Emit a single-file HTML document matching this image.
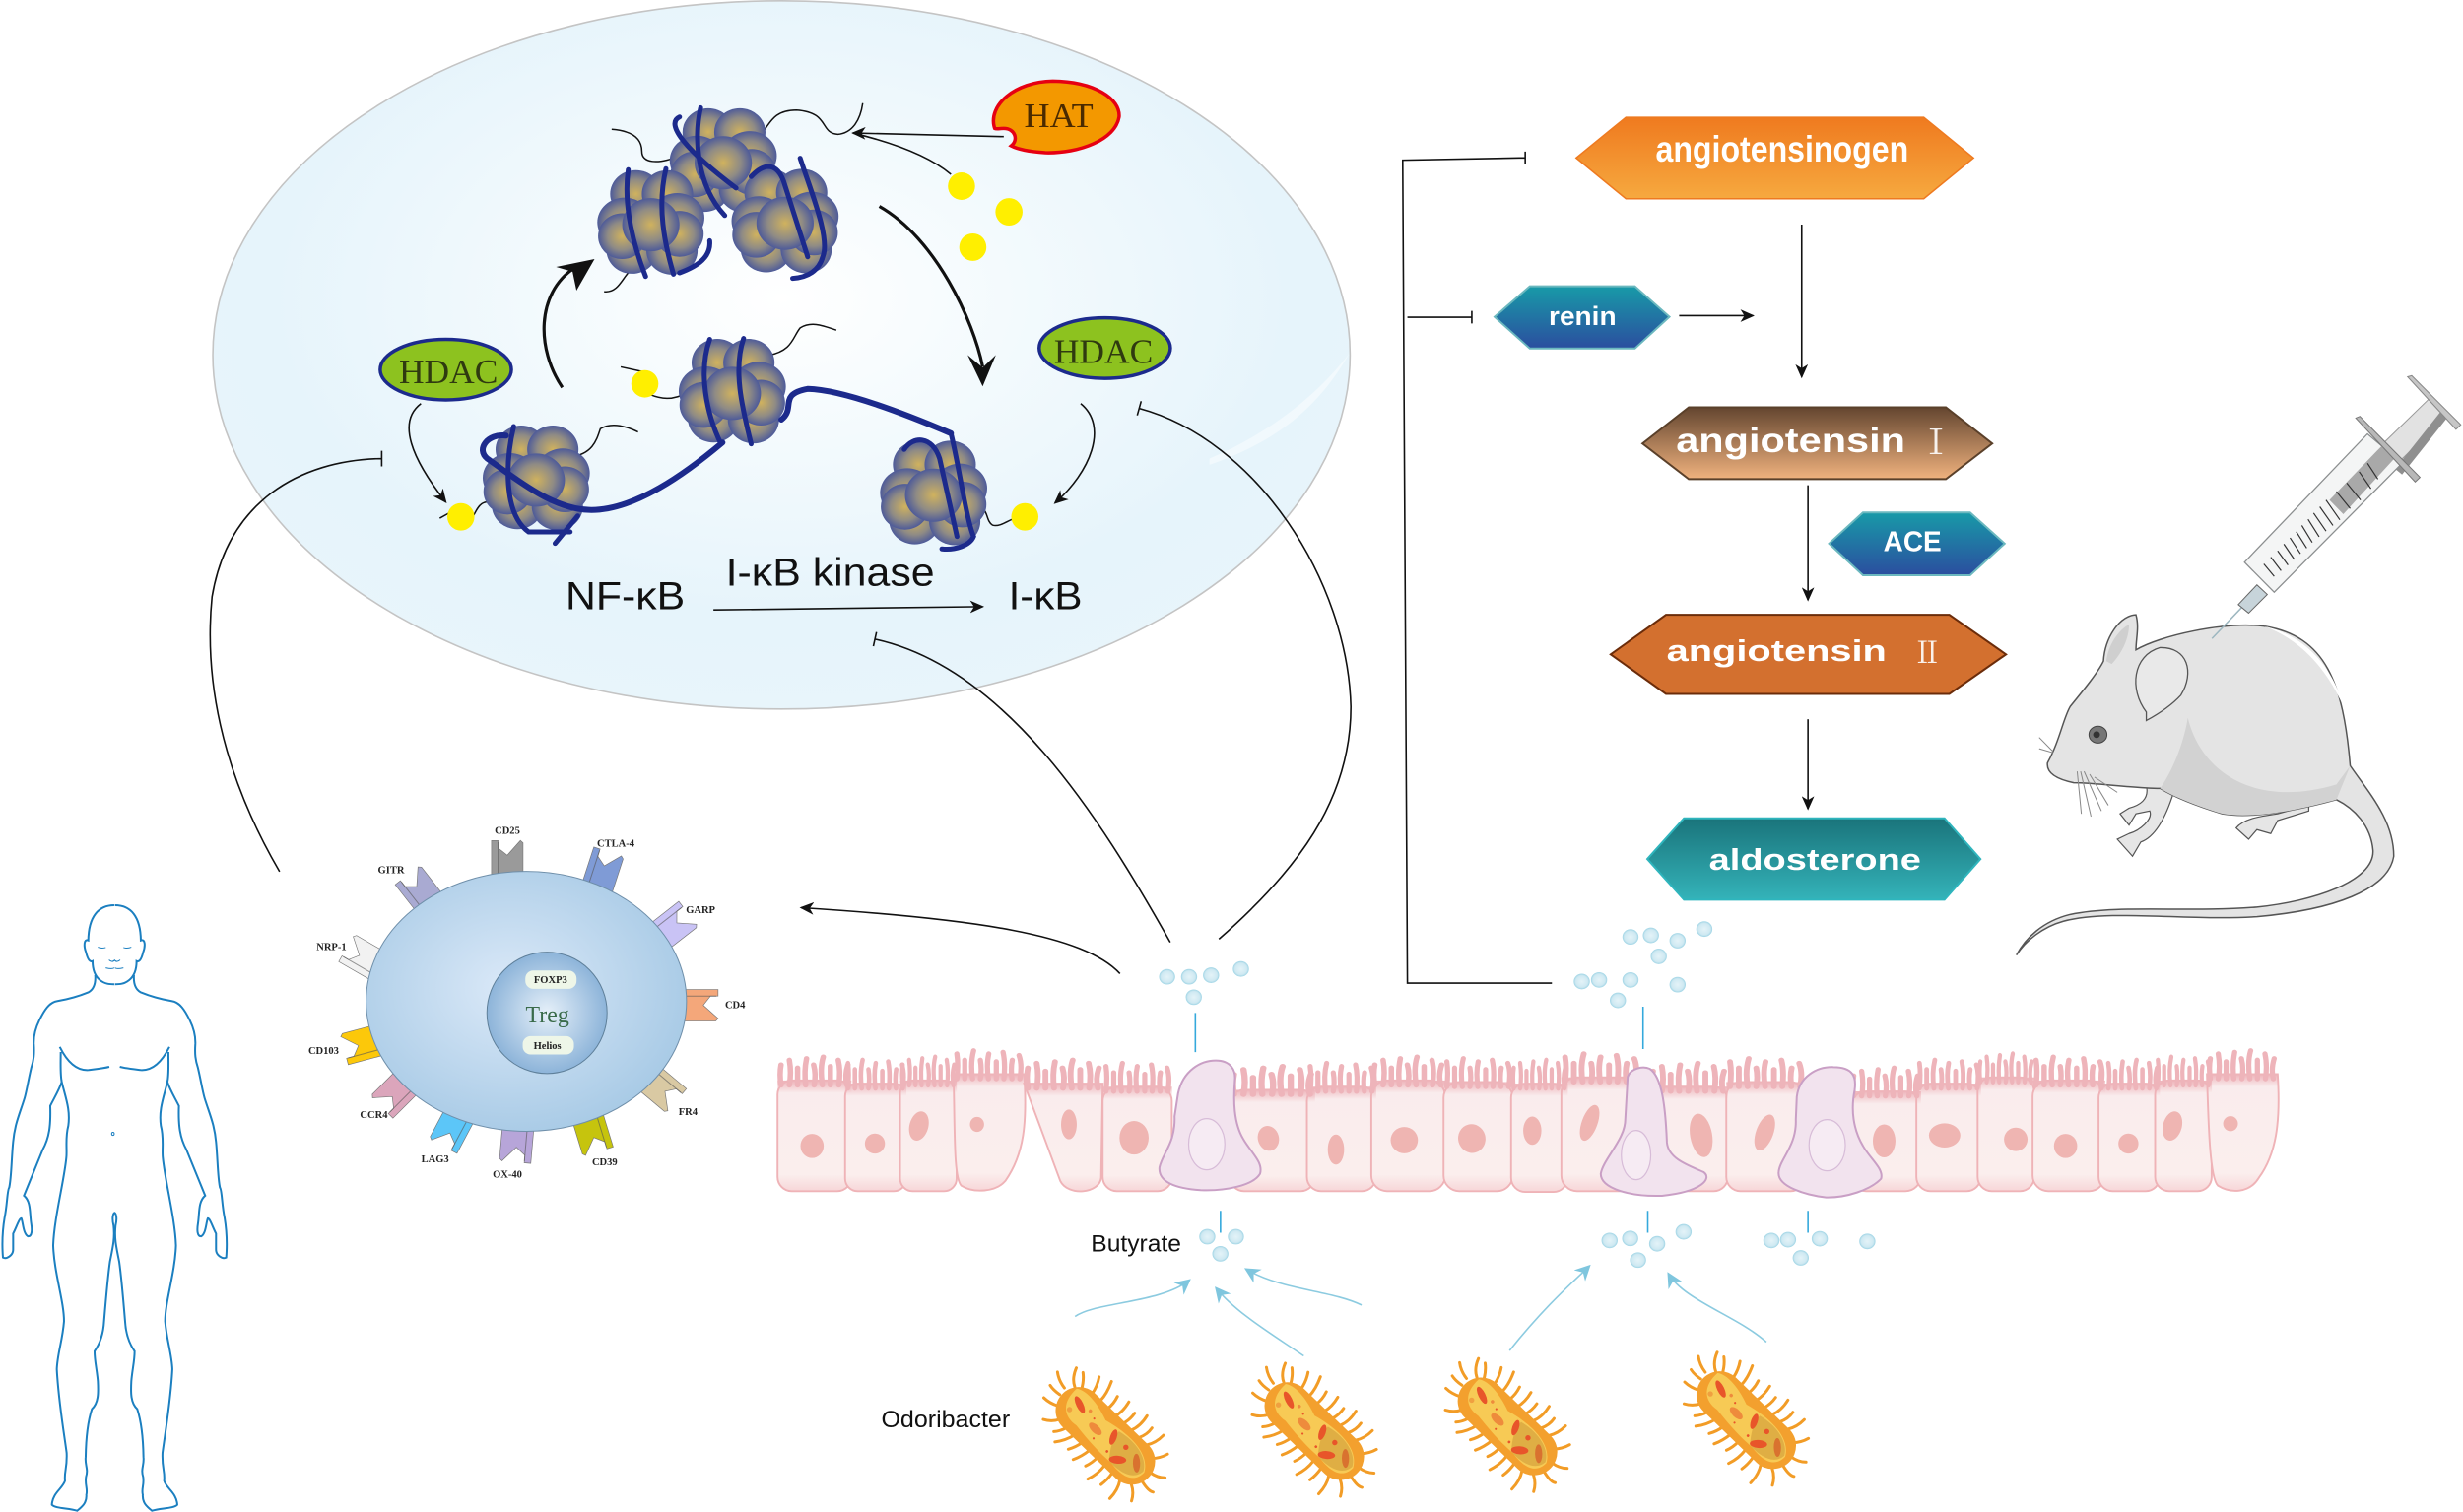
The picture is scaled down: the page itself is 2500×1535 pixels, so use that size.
<!DOCTYPE html>
<html><head><meta charset="utf-8"><style>
html,body{margin:0;padding:0;background:#fff}
svg{display:block}
text{font-family:"Liberation Sans","Noto Sans CJK SC",sans-serif}
.s{font-family:"Liberation Serif","Noto Serif CJK SC",serif}
.t{font-family:"Liberation Serif",serif;font-size:6.6px;font-weight:bold;fill:#222;text-anchor:middle}
.w{fill:#fff;font-weight:bold}
.ns,.ns *{vector-effect:non-scaling-stroke}
</style></head><body>
<svg width="2500" height="1535" viewBox="0 0 1568 962.8" preserveAspectRatio="none" xmlns="http://www.w3.org/2000/svg">
<defs>
<radialGradient id="bg" cx=".5" cy=".42" r=".6"><stop offset="0" stop-color="#fff"/><stop offset=".35" stop-color="#f3fafd"/><stop offset=".75" stop-color="#e6f4fb"/><stop offset="1" stop-color="#e8f5fb"/></radialGradient>
<radialGradient id="nb" cx=".5" cy=".5" r=".55"><stop offset="0" stop-color="#d0b25e"/><stop offset=".55" stop-color="#8f8b85"/><stop offset="1" stop-color="#3d4e9e"/></radialGradient>
<radialGradient id="cell" cx=".45" cy=".45" r=".6"><stop offset="0" stop-color="#dbe9f8"/><stop offset="1" stop-color="#a6c9e5"/></radialGradient>
<radialGradient id="nuc2" cx=".5" cy=".5" r=".55"><stop offset="0" stop-color="#e6f0f9"/><stop offset="1" stop-color="#84aed6"/></radialGradient>
<radialGradient id="drop" cx=".5" cy=".5" r=".55"><stop offset="0" stop-color="#e4f3f8"/><stop offset=".7" stop-color="#cfe9f2"/><stop offset="1" stop-color="#9fd3e4"/></radialGradient>
<linearGradient id="g1" x1="0" y1="0" x2="0" y2="1"><stop offset="0" stop-color="#ef7a1f"/><stop offset="1" stop-color="#f6a93f"/></linearGradient>
<linearGradient id="g2" x1="0" y1="0" x2="0" y2="1"><stop offset="0" stop-color="#189aa8"/><stop offset="1" stop-color="#2b4e9f"/></linearGradient>
<linearGradient id="g3" x1="0" y1="0" x2="0" y2="1"><stop offset="0" stop-color="#644630"/><stop offset="1" stop-color="#f0b27e"/></linearGradient>
<linearGradient id="g4" x1="0" y1="0" x2="0" y2="1"><stop offset="0" stop-color="#1a747b"/><stop offset="1" stop-color="#34b3b9"/></linearGradient>
<linearGradient id="ep" x1="0" y1="0" x2="0" y2="1"><stop offset="0" stop-color="#f9eced"/><stop offset=".85" stop-color="#fbeeed"/><stop offset="1" stop-color="#f7d6d8"/></linearGradient>
<linearGradient id="vb" x1="0" y1="0" x2="0" y2="1"><stop offset="0" stop-color="#eeb4ba"/><stop offset="1" stop-color="#eeb4ba" stop-opacity="0"/></linearGradient>
<marker id="ar" markerUnits="userSpaceOnUse" markerWidth="10" markerHeight="8" refX="8" refY="4" orient="auto"><path d="M0 0L9 4L0 8L2.5 4Z" fill="#111"/></marker>
<marker id="ar2" markerUnits="userSpaceOnUse" markerWidth="12" markerHeight="10" refX="9" refY="5" orient="auto"><path d="M0 0L10 5L0 10L3 5Z" fill="#7fc6de"/></marker>
<g id="n" fill="url(#nb)">
<ellipse cx="-20" cy="-62" rx="34" ry="52"/><ellipse cx="22" cy="-62" rx="34" ry="52"/>
<ellipse cx="-25" cy="60" rx="34" ry="52"/><ellipse cx="28" cy="62" rx="34" ry="52"/>
<ellipse cx="35" cy="-10" rx="36" ry="54"/><ellipse cx="-35" cy="0" rx="36" ry="54"/>
<ellipse cx="38" cy="25" rx="32" ry="50"/><ellipse cx="-38" cy="30" rx="32" ry="50"/>
<ellipse cx="0" cy="5" rx="38" ry="58"/>
</g>
<g id="d"><ellipse cx="0" cy="0" rx="4.9" ry="4.7" fill="url(#drop)" stroke="#a9d9e8" stroke-width=".5"/></g>
<g id="b">
<g transform="rotate(44) scale(.85) translate(-3,0)">
<path fill="none" stroke="#f29c26" stroke-width="2.200" stroke-linecap="round" d="M-34-12q-3-6-8-10M-26-15q-1-7-5-13M-18-16q0-7-4-16M-10-15q1-6-1-12M-2-15q2-7 0-15M6-15q2-6 1-12M14-16q3-7 1-16M22-16q3-6 2-12M30-16q4-6 4-14M38-10q6-5 8-12M46-3q7-1 11-5M47 6q8 2 11 0M42 13q6 3 9 9M34 17q4 6 4 15M26 17q1 6 0 12M18 17q1 8-2 16M10 16q0 6-2 11M2 16q-1 8-4 14M-6 16q-1 6-4 11M-14 16q-2 8-7 14M-22 16q-2 6-5 9M-30 15q-3 6-9 9M-38 9q-6 3-12 3M-43 2q-6 1-10 0M-44-4q-7-1-12-5M-39-10q-6-3-9-11"/>
<rect x="-42" y="-17" width="90" height="35" rx="17.5" fill="#f3a02e"/>
<path d="M-37 -10C-30-15-15-12-5-8C10-12 35-15 43 0C43 12 32 14 20 12C5 13-10 11-18 10C-30 12-38 5-37-10Z" fill="#f7ca55"/>
<path d="M8-9C25-13 38-8 42 0C41 10 30 13 18 12C12 5 8-2 8-9Z" fill="#dfae44"/>
<ellipse cx="-27" cy="-3" rx="7" ry="2.6" fill="#e8552a" transform="rotate(20 -27 -3)"/>
<ellipse cx="-6" cy="2" rx="6" ry="3" fill="#ee8b3c"/>
<ellipse cx="8" cy="-3" rx="2.5" ry="6" fill="#e8552a" transform="rotate(-25 8 -3)"/>
<ellipse cx="22" cy="7" rx="6.5" ry="3" fill="#e8552a" transform="rotate(-40 22 7)"/>
<ellipse cx="34" cy="-1" rx="2.7" ry="7" fill="#d9722f" transform="rotate(-45 34 -1)"/>
<circle cx="20" cy="-4" r="2" fill="#e8552a"/><circle cx="-18" cy="-5" r="1.3" fill="#ee8b3c"/><circle cx="-30" cy="5" r="2" fill="#f0a040"/>
<circle cx="-12" cy="-3" r=".8" fill="#e8552a"/><circle cx="-2" cy="8" r=".8" fill="#e8552a"/><circle cx="12" cy="8" r="1" fill="#e8552a"/>
</g></g>
<g id="r"><polygon points="-48,20 -48,-95 -28,-95 -28,-72 0,-50 40,-95 48,-88 48,20" stroke="#777" stroke-width="2"/><line x1="-28" y1="-90" x2="-28" y2="20" stroke="#555" stroke-width="3" opacity=".6"/></g>
<g id="v1"><rect x="0" y="0" width="42" height="8" fill="url(#vb)"/><path d="M2 3Q1 -4 2 -10M6.700 3Q8 -5 6.700 -13M11.400 3V-8M16 3Q15 -6 16.500 -14M20.800 3Q22 -4 20.500 -10M25.500 3Q24 -8 26 -15M30 3V-9M34.800 3Q36 -6 34.500 -13M39.500 3Q38 -3 40 -10" fill="none" stroke="#eeb4ba" stroke-width="3.100" stroke-linecap="round"/></g>
<g id="v2"><rect x="0" y="0" width="42" height="8" fill="url(#vb)"/><path d="M2 3Q3 -6 2 -13M6.700 3V-9M11.400 3Q10 -7 12 -15M16 3Q17 -3 16 -9M20.800 3Q19.500 -6 21 -13M25.500 3V-8M30 3Q31 -7 29.500 -14M34.800 3Q34 -4 35 -9M39.500 3Q41 -6 39 -12" fill="none" stroke="#eeb4ba" stroke-width="3.100" stroke-linecap="round"/></g>
</defs>

<rect width="1568" height="963" fill="#fff"/>

<!-- nucleus ellipse -->
<ellipse cx="497.5" cy="226" rx="362" ry="225.5" fill="url(#bg)" stroke="#c4c4c4" stroke-width="1"/>
<path d="M770 292C810 275 840 250 859 225C838 262 810 282 770 296Z" fill="#fff" opacity=".45"/>

<g transform="translate(125.4,0) scale(.48,.292)">
<g class="ns" fill="none" stroke="#111" stroke-width="1.5">
<path d="M735 310C760 290 755 240 795 240C840 245 825 290 850 293C870 290 880 260 883 225"/>
<path d="M640 340C610 360 590 355 590 330C590 300 575 285 550 282"/>
<path d="M578 585C565 600 560 640 540 636"/>
<path d="M758 775C790 765 790 735 800 715C815 700 830 710 848 720"/>
<path d="M652 855C630 875 615 870 600 860M562 800L590 810"/>
<path d="M495 997C525 990 530 960 535 935C550 920 570 930 585 942"/>
<path d="M398 1098C375 1085 372 1110 365 1130M322 1130L335 1118"/>
<path d="M1035 1115C1050 1100 1045 1135 1055 1145C1065 1150 1075 1135 1085 1130"/>
</g>
<use href="#n" transform="translate(698,350)"/>
<use href="#n" transform="translate(602,485)"/>
<use href="#n" transform="translate(780,482)"/>
<use href="#n" transform="translate(710,853)"/>
<use href="#n" transform="translate(450,1042)"/>
<use href="#n" transform="translate(977,1075)"/>
<g class="ns" fill="none" stroke="#1c2a8c" stroke-width="5" stroke-linecap="round">
<path d="M668 235C660 290 660 400 700 470M640 255C620 270 650 330 715 410"/>
<path d="M572 370C565 450 580 540 595 603M622 368C610 450 620 530 632 598M680 525C682 560 665 580 640 595"/>
<path d="M800 345C815 420 840 520 830 560C825 590 810 605 790 607M735 385C755 350 770 360 778 395L810 560"/>
<path d="M680 740C665 810 675 900 695 968M725 738C710 810 725 900 735 968"/>
<path d="M420 930C410 1000 405 1120 440 1160L495 1160M475 1185L505 1125"/>
<path d="M938 980C950 950 975 950 985 1000L1008 1170M1000 945C1010 1010 1020 1130 1030 1170C1025 1190 1005 1200 988 1197"/>
</g>
<g class="ns" fill="none" stroke="#1c2a8c" stroke-width="6" stroke-linecap="round">
<path d="M697 965C650 1030 580 1115 520 1112C470 1110 420 1040 385 1000C370 980 385 945 410 950"/>
<path d="M775 915C795 890 770 860 810 848C860 850 950 910 1000 945"/>
</g>
<g fill="#ffef00">
<ellipse cx="1014" cy="406" rx="18" ry="30"/><ellipse cx="1077" cy="462" rx="18" ry="30"/><ellipse cx="1029" cy="539" rx="18" ry="30"/>
<ellipse cx="594" cy="837" rx="18" ry="30"/><ellipse cx="350" cy="1127" rx="18" ry="30"/><ellipse cx="1098" cy="1127" rx="18" ry="30"/>
</g>
<g class="ns" stroke-width="3.5">
<ellipse cx="330" cy="806" rx="87" ry="66" fill="#8dc21f" stroke="#1c2a8c"/>
<ellipse cx="1204" cy="759" rx="87" ry="66" fill="#8dc21f" stroke="#1c2a8c"/>
<path d="M1058 280C1048 230 1085 178 1135 177C1190 178 1225 215 1223 255C1218 305 1170 335 1125 333C1100 330 1088 325 1080 318C1090 305 1085 280 1070 280C1065 280 1060 282 1058 280Z" fill="#f39800" stroke="#e60012"/>
</g>
</g>

<!-- labels in nucleus -->
<text class="s" x="254" y="244" font-size="22" fill="#2f3a10" textLength="63" lengthAdjust="spacingAndGlyphs">HDAC</text>
<text class="s" x="671" y="231" font-size="22" fill="#2f3a10" textLength="63" lengthAdjust="spacingAndGlyphs">HDAC</text>
<text class="s" x="652" y="81" font-size="22" fill="#4a2a00" textLength="44" lengthAdjust="spacingAndGlyphs">HAT</text>
<text x="360" y="388" font-size="25" fill="#111" textLength="76" lengthAdjust="spacingAndGlyphs">NF-κB</text>
<text x="462" y="373" font-size="25" fill="#111" textLength="133" lengthAdjust="spacingAndGlyphs">I-κB kinase</text>
<text x="642" y="388" font-size="25" fill="#111" textLength="47" lengthAdjust="spacingAndGlyphs">I-κB</text>

<!-- thin arrows -->
<g fill="none" stroke="#111" stroke-width="1">
<path d="M268 257C252.600 268.600 262 292 283.800 319.700" marker-end="url(#ar)"/>
<path d="M688 257C706 271.600 694 300.800 671.600 320.300" marker-end="url(#ar)"/>
<path d="M639 87L543 84.700" marker-end="url(#ar)"/>
<path d="M605.400 111C591 99 567 90.500 543 84.700"/>
<path d="M454.200 388.400L625.600 386.300" marker-end="url(#ar)"/>
<path d="M178 555C140 490 130 430 135 380C145 320 190 293 243 292M243 287V297"/>
<path d="M776 598C825 555 860 510 860 450C858 370 800 280 725 260M726.500 255.500L724 264.500"/>
<path d="M745 600C700 520 640 425 557 407M558 402.500L556 411.500"/>
<path d="M713 620C690 595 620 585 510 578" marker-end="url(#ar)"/>
</g>
<g fill="none" stroke="#111" stroke-width="2">
<path d="M358 246.700C341.400 222 341.400 187 365.400 170.800"/>
<path d="M559.800 131.400C595.800 151.800 619.800 204.400 625.600 233.600"/>
</g>
<path d="M378.500 165L367 185L364.500 173L354 170Z" fill="#111"/>
<path d="M625.600 246L616 226L625.600 234L634 226Z" fill="#111"/>

<!-- RAS cascade -->
<g transform="translate(878,50.200) scale(.44,.36)">
<g class="ns" stroke-width="1.500">
<polygon points="285,140 357,68 788,68 860,140 788,212 357,212" fill="url(#g1)" stroke="#ee7a20"/>
<polygon points="167,421 218,367 370,367 420,421 370,477 218,477" fill="url(#g2)" stroke="#6bb8bf" stroke-width="2"/>
<polygon points="381,645 448,581 820,581 887,645 820,708 448,708" fill="url(#g3)" stroke="#5a402a" stroke-width="2"/>
<polygon points="651,822 700,767 855,767 905,822 855,878 700,878" fill="url(#g2)" stroke="#6bb8bf" stroke-width="2"/>
<polygon points="335,1018 415,948 825,948 907,1018 825,1088 415,1088" fill="#d3702f" stroke="#6b2c0a" stroke-width="2"/>
<polygon points="388,1380 441,1308 818,1308 870,1380 818,1452 441,1452" fill="url(#g4)" stroke="#2fb5bd" stroke-width="2"/>
</g>
<!-- mouse -->
<g class="ns">
<path d="M1110 1250C1115 1275 1100 1285 1085 1290L1072 1300L1085 1320L1095 1300L1115 1295C1120 1310 1100 1330 1085 1335L1068 1345L1090 1375L1102 1350C1125 1340 1140 1300 1150 1260Z" fill="#e6e6e6" stroke="#555" stroke-width="1.200"/>
<path d="M1345 1285L1300 1300C1270 1305 1250 1310 1240 1325L1258 1345L1270 1328L1290 1335L1300 1312L1345 1295Z" fill="#e6e6e6" stroke="#555" stroke-width="1.200"/>
<path d="M1095 1010C1130 985 1220 960 1280 968C1370 985 1395 1070 1405 1215C1430 1260 1468 1310 1468 1375C1460 1435 1380 1470 1270 1482C1170 1490 1060 1468 990 1490C960 1500 935 1525 922 1550C935 1520 960 1490 1000 1478C1070 1460 1170 1475 1270 1465C1350 1455 1440 1420 1438 1365C1435 1320 1410 1290 1385 1275C1340 1290 1270 1310 1220 1300C1180 1285 1150 1270 1130 1255C1090 1255 1040 1245 1005 1245C985 1240 965 1230 967 1210C985 1170 990 1130 1000 1110C1020 1080 1040 1050 1048 1030C1050 990 1070 950 1095 948C1100 970 1095 990 1095 1010Z" fill="#e4e4e4" stroke="#555" stroke-width="1.500"/>
<path d="M1170 1130C1190 1230 1270 1290 1385 1248L1405 1215L1385 1275C1340 1290 1270 1310 1220 1300C1180 1285 1150 1270 1130 1255C1150 1220 1165 1170 1170 1130Z" fill="#d2d2d2"/>
<path d="M1280 968C1340 985 1380 1040 1395 1110C1370 1040 1330 990 1280 968Z" fill="#fff"/>
<path d="M1110 1120C1085 1080 1090 1020 1130 1006C1170 1005 1180 1050 1160 1090C1145 1110 1125 1125 1110 1135Z" fill="#e9e9e9" stroke="#555" stroke-width="1.300"/>
<path d="M1052 1030C1055 1000 1070 975 1085 965C1085 990 1075 1015 1060 1035Z" fill="#cfcfcf"/>
<ellipse cx="1040" cy="1160" rx="13" ry="15" fill="#777" stroke="#444"/>
<ellipse cx="1038" cy="1160" rx="5" ry="6" fill="#333"/>
<path d="M1010 1225L1016 1300M1015 1225L1030 1305M1020 1225L1045 1295M1028 1230L1055 1285M1035 1235L1068 1262M975 1190L955 1165M975 1192L955 1185" stroke="#888" stroke-width="1" fill="none"/>
<!-- syringe -->
<line x1="1205" y1="990" x2="1252" y2="930" stroke="#9db7c0" stroke-width="1.500"/>
<polygon points="1243,930 1270,895 1285,912 1258,945" fill="#c7d4da" stroke="#666"/>
<polygon points="1440,660 1520,565 1545,595 1465,690" fill="#e2e2e2" stroke="#999"/>
<polygon points="1470,690 1535,590 1545,600 1480,700" fill="#8f8f8f"/>
<polygon points="1488,527 1494,525 1565,612 1558,620" fill="#c6c6c6" stroke="#888"/>
<polygon points="1252,855 1430,628 1480,680 1295,908" fill="#f4f5f5" stroke="#8c8f90" stroke-width="1.300"/>
<polygon points="1375,745 1450,650 1470,670 1395,770" fill="#a9a9a9"/>
<polygon points="1413,600 1419,597 1506,705 1499,713" fill="#b8b8b8" stroke="#777"/>
<path d="M1280 858L1295 880M1290 846L1305 870M1300 835L1315 860M1309 823L1324 850M1318 812L1333 840M1327 801L1342 830M1335 790L1350 820M1344 779L1360 810M1352 768L1370 800M1361 757L1380 790M1370 745L1390 780M1385 730L1405 760M1400 715L1420 745M1418 695L1435 725M1430 680L1445 708" stroke="#333" stroke-width="1.200" fill="none"/>
</g>
</g>
<g fill="none" stroke="#111" stroke-width="1">
<path d="M971 100.500L893 102L896 626L988 626M971 96.500V104.500"/>
<path d="M896 202L937 202M937 198V206"/>
<path d="M1069 201L1116 201" marker-end="url(#ar)"/>
<path d="M1147 143L1147 240" marker-end="url(#ar)"/>
<path d="M1151 309L1151 382" marker-end="url(#ar)"/>
<path d="M1151 458L1151 515" marker-end="url(#ar)"/>
</g>
<text class="w" x="1054" y="103" font-size="23" textLength="161" lengthAdjust="spacingAndGlyphs">angiotensinogen</text>
<text class="w" x="986" y="207" font-size="17" textLength="43" lengthAdjust="spacingAndGlyphs">renin</text>
<text class="w" x="1067" y="288" font-size="22" textLength="146" lengthAdjust="spacingAndGlyphs">angiotensin</text>
<text class="s" x="1232.500" y="289" font-size="22" fill="#fff" text-anchor="middle" opacity=".9">Ⅰ</text>
<text class="w" x="1199" y="351" font-size="18" textLength="37" lengthAdjust="spacingAndGlyphs">ACE</text>
<text class="w" x="1061" y="421" font-size="19" textLength="140" lengthAdjust="spacingAndGlyphs">angiotensin</text>
<text class="s" x="1227" y="422" font-size="19" fill="#fff" text-anchor="middle" opacity=".9">Ⅱ</text>
<text class="w" x="1088" y="554" font-size="19" textLength="135" lengthAdjust="spacingAndGlyphs">aldosterone</text>

<!-- Treg -->
<g transform="translate(175.600,514.300) scale(.209)">
<use href="#r" fill="#9a9a9a" transform="translate(705,195)"/>
<use href="#r" fill="#7f9bd6" transform="translate(985,225) rotate(18)"/>
<use href="#r" fill="#c9c3f5" transform="translate(1182,382) rotate(52)"/>
<use href="#r" fill="#f4a77a" transform="translate(1252,602) rotate(90)"/>
<use href="#r" fill="#d9c9a3" transform="translate(1147,832) rotate(130)"/>
<use href="#r" fill="#c6c40d" transform="translate(954,957) rotate(163)"/>
<use href="#r" fill="#b7a5d9" transform="translate(737,985) rotate(185)"/>
<use href="#r" fill="#5cc6f8" transform="translate(554,947) rotate(208)"/>
<use href="#r" fill="#dba5bb" transform="translate(390,845) rotate(225)"/>
<use href="#r" fill="#fcc80a" transform="translate(300,712) rotate(255)"/>
<use href="#r" fill="#f2f2f2" transform="translate(298,475) rotate(-60)"/>
<use href="#r" fill="#a9aad2" transform="translate(460,280) rotate(-38)"/>
<ellipse cx="763" cy="590" rx="488" ry="396" fill="url(#cell)" stroke="#6f8faa" stroke-width="3"/>
<ellipse cx="826" cy="625" rx="183" ry="185" fill="url(#nuc2)" stroke="#5e7f99" stroke-width="3"/>
<rect x="760" y="496" width="156" height="56" rx="24" fill="#eef6e8"/>
<rect x="752" y="696" width="156" height="56" rx="24" fill="#eef6e8"/>
</g>
<text class="s" x="348.500" y="651" font-size="15" fill="#3a6b4a" text-anchor="middle">Treg</text>
<text class="t" x="350.500" y="626">FOXP3</text><text class="t" x="348.500" y="668">Helios</text>
<text class="t" x="323" y="531">CD25</text><text class="t" x="392" y="539">CTLA-4</text><text class="t" x="249" y="556">GITR</text><text class="t" x="446" y="581.500">GARP</text><text class="t" x="211" y="605">NRP-1</text><text class="t" x="468" y="642">CD4</text><text class="t" x="206" y="671">CD103</text><text class="t" x="438" y="710">FR4</text><text class="t" x="238" y="712">CCR4</text><text class="t" x="277" y="740">LAG3</text><text class="t" x="385" y="742">CD39</text><text class="t" x="323" y="750">OX-40</text>

<!-- Epithelium -->
<g fill="url(#ep)" stroke="#efb3b7" stroke-width="1.200">
<rect x="495" y="688" width="47" height="70.500" rx="9"/><rect x="538" y="690" width="39" height="68.500" rx="8"/><rect x="573" y="688" width="36" height="70.500" rx="8"/>
<path d="M607 684H652C654 715 652 735 640 752C634 759 620 760 612 755C607 750 608 720 607 684Z"/>
<path d="M652 690H702L701 750C700 760 680 762 675 752Z"/>
<rect x="702" y="692" width="44" height="66.500" rx="9"/>
<rect x="783" y="694" width="54" height="64.500" rx="9"/><rect x="832" y="692" width="44" height="66.500" rx="9"/><rect x="873" y="688" width="47" height="70.500" rx="10"/><rect x="919" y="689" width="44" height="69.500" rx="10"/><rect x="962" y="690" width="36" height="69" rx="9"/>
<rect x="994" y="686" width="50" height="72.500" rx="10"/><rect x="1050" y="692" width="50" height="66.500" rx="9"/><rect x="1099" y="689" width="50" height="69.500" rx="9"/><rect x="1178" y="695" width="45" height="63.500" rx="10"/><rect x="1220" y="690" width="41" height="68.500" rx="9"/><rect x="1259" y="686" width="36" height="72.500" rx="9"/><rect x="1294" y="688" width="46" height="70.500" rx="10"/><rect x="1336" y="690" width="39" height="68.500" rx="9"/><rect x="1372" y="688" width="36" height="70.500" rx="9"/>
<path d="M1405 684H1450C1452 715 1449 735 1438 750C1432 760 1420 760 1412 755C1407 750 1406 720 1405 684Z"/>
</g>
<use href="#v1" transform="translate(495,688) scale(1.120,1)"/><use href="#v2" transform="translate(538,690) scale(.930,1)"/><use href="#v1" transform="translate(573,688) scale(.860,1)"/><use href="#v2" transform="translate(607,684) scale(1.070,1)"/><use href="#v1" transform="translate(652,690) scale(1.190,1)"/><use href="#v2" transform="translate(702,692) scale(1.050,1)"/>
<use href="#v1" transform="translate(783,694) scale(1.290,1)"/><use href="#v2" transform="translate(832,692) scale(1.050,1)"/><use href="#v1" transform="translate(873,688) scale(1.120,1)"/><use href="#v2" transform="translate(919,689) scale(1.050,1)"/><use href="#v1" transform="translate(962,690) scale(.860,1)"/><use href="#v2" transform="translate(994,686) scale(1.190,1)"/><use href="#v1" transform="translate(1050,692) scale(1.190,1)"/><use href="#v2" transform="translate(1099,689) scale(1.190,1)"/><use href="#v1" transform="translate(1178,695) scale(1.070,1)"/><use href="#v2" transform="translate(1220,690) scale(.980,1)"/><use href="#v1" transform="translate(1259,686) scale(.860,1)"/><use href="#v2" transform="translate(1294,688) scale(1.100,1)"/><use href="#v1" transform="translate(1336,690) scale(.930,1)"/><use href="#v2" transform="translate(1372,688) scale(.860,1)"/><use href="#v1" transform="translate(1405,684) scale(1.070,1)"/>
<g fill="#efb5b2">
<ellipse cx="517" cy="729.700" rx="7.400" ry="7.700"/><ellipse cx="557" cy="728.200" rx="6.400" ry="6.400"/><ellipse cx="585" cy="717" rx="6" ry="9.500" transform="rotate(15 585 717)"/><ellipse cx="622" cy="716" rx="4.500" ry="4.800"/><ellipse cx="680.500" cy="716" rx="5" ry="9.500"/><ellipse cx="722" cy="724.500" rx="9.300" ry="10.700"/>
<ellipse cx="807.500" cy="725" rx="6.700" ry="8" transform="rotate(-15 807 725)"/><ellipse cx="850.500" cy="732" rx="5.200" ry="9.600"/><ellipse cx="894" cy="726" rx="8.700" ry="8.400"/><ellipse cx="937" cy="725" rx="8.700" ry="9.200" transform="rotate(-15 937 725)"/><ellipse cx="975.500" cy="720" rx="5.800" ry="9"/>
<ellipse cx="1012" cy="715" rx="5" ry="12" transform="rotate(20 1012 715)"/><ellipse cx="1083" cy="723" rx="7" ry="14" transform="rotate(-10 1083 723)"/><ellipse cx="1123.500" cy="721" rx="5.500" ry="12" transform="rotate(20 1123 721)"/>
<ellipse cx="1199.500" cy="726.500" rx="7.200" ry="10.500"/><ellipse cx="1238" cy="723" rx="10" ry="7.700"/><ellipse cx="1283.300" cy="725.500" rx="7.500" ry="7.500"/><ellipse cx="1315" cy="729.700" rx="7.400" ry="7.700"/><ellipse cx="1355" cy="728.200" rx="6.400" ry="6.400"/><ellipse cx="1383" cy="717" rx="6" ry="9.500" transform="rotate(15 1383 717)"/><ellipse cx="1420" cy="715.500" rx="4.700" ry="4.800"/>
</g>
<g transform="translate(489.200,658.600) scale(.32,.209)" class="ns">
<path d="M815 180C825 110 860 80 890 80C920 80 930 110 928 140C925 200 925 270 945 320C960 360 985 390 978 425C965 460 910 478 860 475C810 470 775 450 778 405C785 360 810 330 808 250Z" fill="#f2e3ee" stroke="#c99fc5" stroke-width="2"/>
<ellipse cx="872" cy="335" rx="36" ry="78" fill="#f6ebf3" stroke="#d7bcd8" stroke-width="1.200"/>
</g>
<g transform="translate(991,658.600) scale(.312,.209)" class="ns">
<path d="M145 130C150 105 175 95 190 105C215 130 222 220 225 330C228 380 270 400 300 420C318 440 295 480 215 492C150 495 90 470 90 425C95 380 140 320 140 260Z" fill="#f2e3ee" stroke="#c99fc5" stroke-width="2"/>
<ellipse cx="162" cy="368" rx="30" ry="75" fill="#f6ebf3" stroke="#d7bcd8" stroke-width="1.200"/>
<path d="M490 190C495 130 530 98 565 100C605 100 612 130 608 170C600 230 605 290 625 340C640 380 668 410 662 440C640 475 590 498 550 497C510 490 450 465 453 420C455 380 490 340 488 260Z" fill="#f2e3ee" stroke="#c99fc5" stroke-width="2"/>
<ellipse cx="552" cy="338" rx="37" ry="78" fill="#f6ebf3" stroke="#d7bcd8" stroke-width="1.200"/>
</g>

<!-- droplet links -->
<g stroke="#35a9dc" stroke-width="1" fill="none">
<path d="M761 645V670M1046 641V668M777 771V785M1049 771V785M1151 771V785"/>
</g>
<g>
<use href="#d" x="743" y="622"/><use href="#d" x="757" y="622"/><use href="#d" x="771" y="621"/><use href="#d" x="790" y="617"/><use href="#d" x="760" y="635"/>
<use href="#d" x="1038" y="596.600"/><use href="#d" x="1051" y="595.600"/><use href="#d" x="1068" y="599"/><use href="#d" x="1085" y="591.600"/><use href="#d" x="1056" y="609"/><use href="#d" x="1007" y="625"/><use href="#d" x="1018" y="624"/><use href="#d" x="1038" y="624"/><use href="#d" x="1068" y="627"/><use href="#d" x="1030" y="637"/>
<use href="#d" x="768.600" y="787.500"/><use href="#d" x="786.800" y="787.500"/><use href="#d" x="776.900" y="798.400"/>
<use href="#d" x="1024.700" y="789.900"/><use href="#d" x="1037.800" y="788.600"/><use href="#d" x="1055" y="792"/><use href="#d" x="1071.800" y="784.400"/><use href="#d" x="1042.800" y="802.400"/>
<use href="#d" x="1127.700" y="789.900"/><use href="#d" x="1138.300" y="789.400"/><use href="#d" x="1158.500" y="788.800"/><use href="#d" x="1188.800" y="790.500"/><use href="#d" x="1146.400" y="801"/>
</g>
<g fill="none" stroke="#8ccbe0" stroke-width="1">
<path d="M684.400 838.300C697 829 739 830 757.400 815" marker-end="url(#ar2)"/>
<path d="M830 863.400C809 849 787 836 774 820" marker-end="url(#ar2)"/>
<path d="M866.800 831C847.600 821.600 815.600 821.600 793 808" marker-end="url(#ar2)"/>
<path d="M961 860C985 830 1003 815 1012 806" marker-end="url(#ar2)"/>
<path d="M1124.500 854.600C1106 838 1072 828 1062 810.800" marker-end="url(#ar2)"/>
</g>
<text x="694.500" y="797" font-size="15" fill="#111" textLength="57.500" lengthAdjust="spacingAndGlyphs">Butyrate</text>
<text x="561" y="909" font-size="15" fill="#111" textLength="82" lengthAdjust="spacingAndGlyphs">Odoribacter</text>
<use href="#b" x="704" y="914"/><use href="#b" x="837" y="911"/><use href="#b" x="960" y="908"/><use href="#b" x="1112" y="904"/>

<!-- human -->
<g transform="translate(0,564.500) scale(.209,.254)" fill="none" stroke="#1b7fc0" stroke-width="2">
<g class="ns" id="hh">
<path d="M348 47C300 47 270 75 269 135C255 130 255 150 262 165C268 185 275 190 282 187C282 210 290 225 305 235C320 245 335 245 348 245"/>
<path d="M290 222C292 245 285 258 270 265C240 275 205 283 175 287C150 290 135 310 120 335C108 355 102 375 103 395C105 420 103 435 95 455C85 490 82 510 75 530C60 570 45 595 40 640C35 680 35 730 28 755C22 760 22 800 14 830C8 860 5 890 9 930C20 935 40 925 40 910L40 870C50 855 58 832 65 832C70 840 70 870 85 877C98 878 98 860 95 845C90 820 95 790 73 775L130 660C150 630 155 600 153 550C165 530 180 510 188 490C200 530 215 560 208 600C198 630 205 660 202 680C195 740 165 830 162 900C165 970 195 1040 195 1090C190 1140 175 1170 173 1210C178 1290 195 1370 203 1420C205 1460 195 1465 198 1490C190 1510 160 1520 158 1550C170 1560 210 1558 235 1565C250 1555 265 1545 263 1525C268 1510 258 1500 262 1480C270 1460 258 1450 261 1430C262 1380 268 1340 280 1310C300 1295 300 1270 298 1240C295 1210 288 1190 288 1165C305 1145 315 1120 317 1090C322 1040 328 980 335 940C345 900 350 880 346 850C340 830 345 818 350 818"/>
<path d="M182 402C205 440 235 462 270 460C290 458 315 456 333 452M185 415C185 440 183 470 188 490"/>
<path d="M298 152Q310 156 322 153M322 204Q342 208 348 204M332 184Q342 192 350 184" stroke-width="1"/>
</g>
<use href="#hh" transform="translate(698,0) scale(-1,1)"/>
<ellipse class="ns" cx="344" cy="620" rx="4" ry="4" stroke-width="1"/>
</g>
</svg>
</body></html>
